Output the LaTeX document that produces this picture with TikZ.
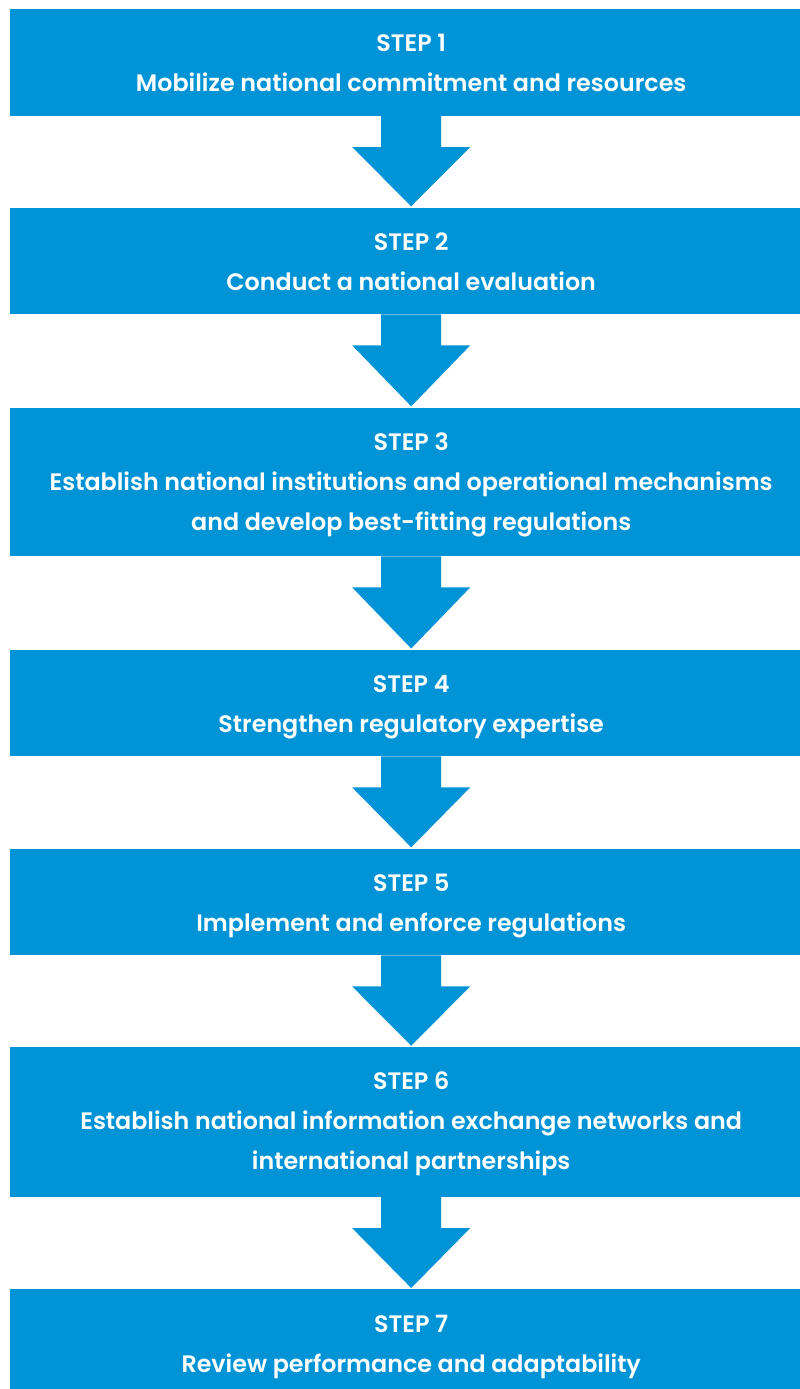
\documentclass[tikz,border=0pt]{standalone}
\usepackage{fontspec}
\setmainfont{Poppins}[BoldFont={Poppins SemiBold}]
\usetikzlibrary{calc}
\definecolor{stepblue}{RGB}{0,148,214}

% block arrow between two stacked step boxes
\newcommand\stepflow[2]{%
  \fill[flowarrow]
    ($(#1.south)+(-24,0)$) -- ($(#1.south)+(36,0)$) --
    ($(#1.south)+(36,31)$) -- ($(#1.south)+(65,31)$) --
    ($(#2.north)+(6,-1)$) --
    ($(#1.south)+(-53,31)$) -- ($(#1.south)+(-24,31)$) -- cycle;}

\begin{document}
\begin{tikzpicture}[x=1pt,y=-1pt,
  stepbox/.style={fill=stepblue, draw=none, inner sep=0pt, anchor=north west,
                  minimum width=790pt},
  steptext/.style={text=white, font=\bfseries\fontsize{23.8}{28}\selectfont,
                   anchor=base, inner sep=0pt},
  flowarrow/.style={fill=stepblue, draw=none}]
\fill[white] (0,0) rectangle (800,1389);
\useasboundingbox (0,0) rectangle (800,1389);

% boxes
\node[stepbox, minimum height=106.7pt] (b1) at (10,9) {};
\node[stepbox, minimum height=106.7pt] (b2) at (10,207.3) {};
\node[stepbox, minimum height=148.7pt] (b3) at (10,407.3) {};
\node[stepbox, minimum height=106.5pt] (b4) at (10,649.5) {};
\node[stepbox, minimum height=106.7pt] (b5) at (10,848.3) {};
\node[stepbox, minimum height=150pt]   (b6) at (10,1046.7) {};
\node[stepbox, minimum height=100pt]   (b7) at (10,1289) {};

% arrows
\stepflow{b1}{b2}
\stepflow{b2}{b3}
\stepflow{b3}{b4}
\stepflow{b4}{b5}
\stepflow{b5}{b6}
\stepflow{b6}{b7}

% labels
\node[steptext] (s1) at ($(b1.north)+(6,43)$) {STEP 1};
\node[steptext] (d1) at ($(b1.north)+(6,83)$) {Mobilize national commitment and resources};

\node[steptext] (s2) at ($(b2.north)+(6,43)$) {STEP 2};
\node[steptext] (d2) at ($(b2.north)+(6,83)$) {Conduct a national evaluation};

\node[steptext] (s3) at ($(b3.north)+(6,43)$) {STEP 3};
\node[steptext] (d3a) at ($(b3.north)+(6,83)$) {Establish national institutions and operational mechanisms};
\node[steptext] (d3b) at ($(b3.north)+(6,123)$) {and develop best-fitting regulations};

\node[steptext] (s4) at ($(b4.north)+(6,43)$) {STEP 4};
\node[steptext] (d4) at ($(b4.north)+(6,83)$) {Strengthen regulatory expertise};

\node[steptext] (s5) at ($(b5.north)+(6,43)$) {STEP 5};
\node[steptext] (d5) at ($(b5.north)+(6,83)$) {Implement and enforce regulations};

\node[steptext] (s6) at ($(b6.north)+(6,43)$) {STEP 6};
\node[steptext] (d6a) at ($(b6.north)+(6,83)$) {Establish national information exchange networks and};
\node[steptext] (d6b) at ($(b6.north)+(6,123)$) {international partnerships};

\node[steptext] (s7) at ($(b7.north)+(6,43)$) {STEP 7};
\node[steptext] (d7) at ($(b7.north)+(6,83)$) {Review performance and adaptability};
\end{tikzpicture}
\end{document}
